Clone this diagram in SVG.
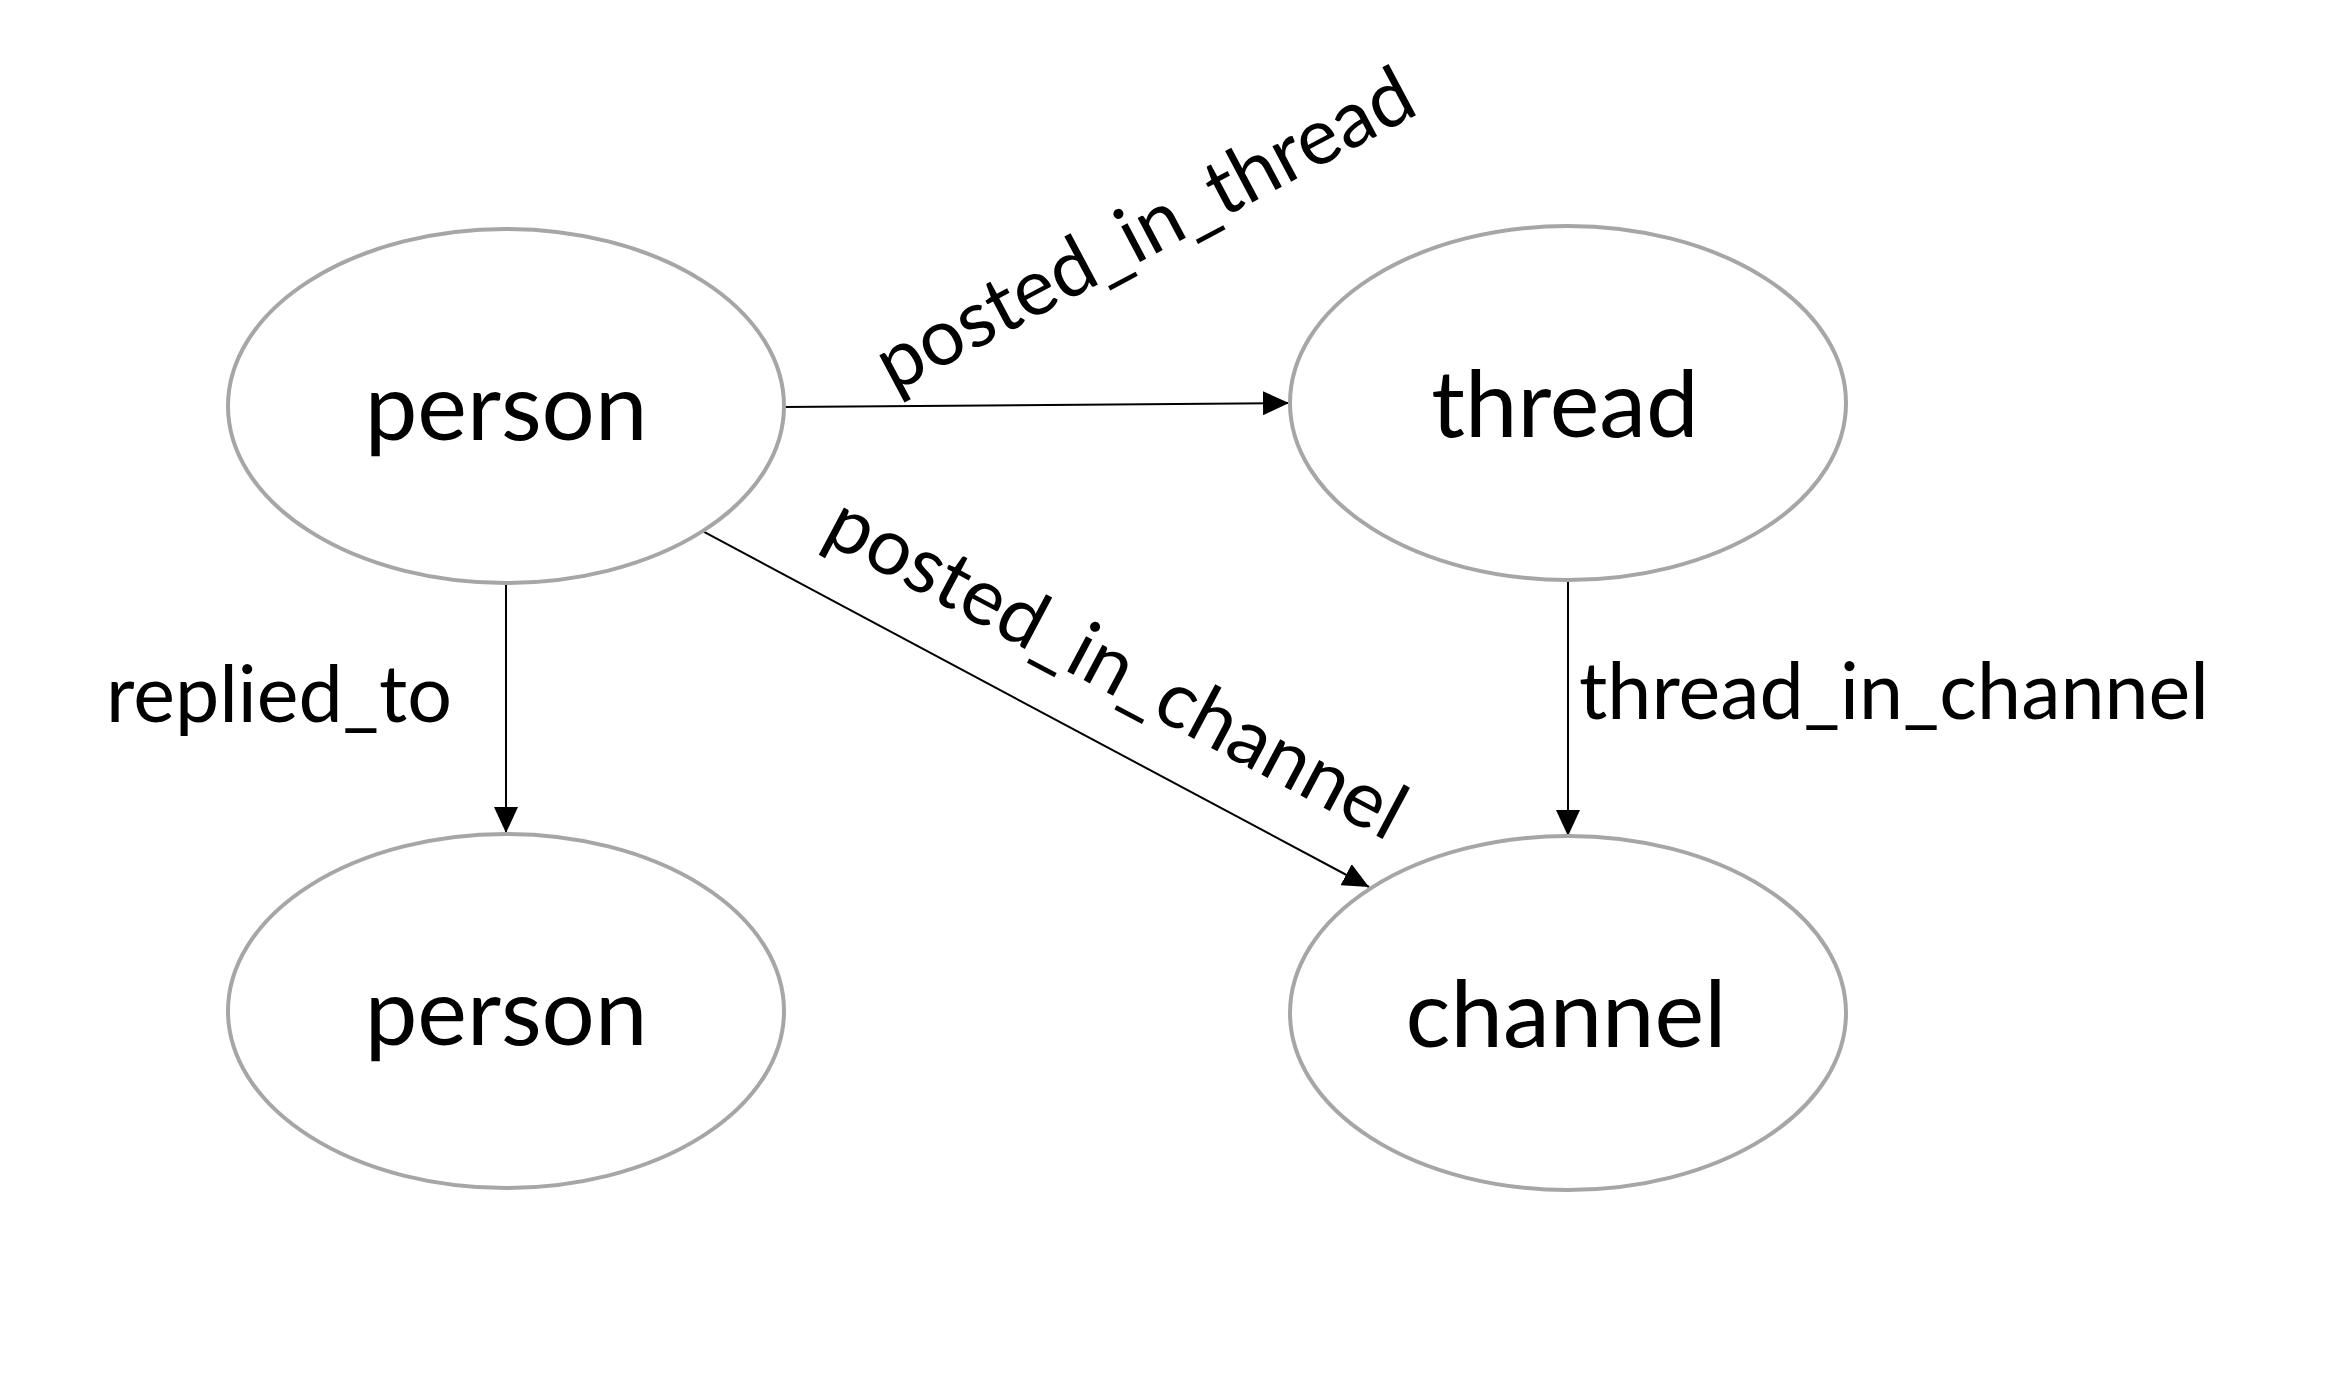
<svg xmlns="http://www.w3.org/2000/svg" width="2328" height="1384" viewBox="0 0 2328 1384">
<style>
.node ellipse{fill:#FFFFFF;stroke:#A6A6A6;stroke-width:4}
.nlabel{font-family:Lato,"Open Sans","Liberation Sans",sans-serif;font-size:94px;fill:#000;text-anchor:middle}
.elabel{font-family:Lato,"Open Sans","Liberation Sans",sans-serif;font-size:79px;fill:#000;text-anchor:middle}
.edge{stroke:#000;stroke-width:2;fill:none;marker-end:url(#arrow)}
</style>
<defs>
<marker id="arrow" viewBox="0 0 26 24" refX="26" refY="12" markerWidth="26" markerHeight="24" markerUnits="userSpaceOnUse" orient="auto">
<path d="M0,0 L26,12 L0,24 z" fill="#000"/>
</marker>
</defs>
<rect x="0" y="0" width="2328" height="1384" fill="#FFFFFF"/>
<g id="connectors">
<line class="edge" x1="784" y1="407" x2="1289" y2="403"/>
<line class="edge" x1="703.6" y1="531.7" x2="1369" y2="887"/>
<line class="edge" x1="506" y1="584" x2="506" y2="833"/>
<line class="edge" x1="1568" y1="580" x2="1568" y2="836"/>
<text class="elabel" transform="translate(1157,253) rotate(-28)">posted_in_thread</text>
<text class="elabel" transform="translate(1104,691) rotate(28)">posted_in_channel</text>
<text class="elabel" x="279" y="722">replied_to</text>
<text class="elabel" x="1894" y="719">thread_in_channel</text>
</g>
<g id="node-person-top" class="node">
<ellipse cx="506" cy="406" rx="278" ry="177"/>
<text class="nlabel" x="506" y="440">person</text>
</g>
<g id="node-thread" class="node">
<ellipse cx="1568" cy="403" rx="278" ry="177"/>
<text class="nlabel" x="1565" y="437">thread</text>
</g>
<g id="node-person-bottom" class="node">
<ellipse cx="506" cy="1011" rx="278" ry="177"/>
<text class="nlabel" x="506" y="1045">person</text>
</g>
<g id="node-channel" class="node">
<ellipse cx="1568" cy="1013" rx="278" ry="177"/>
<text class="nlabel" x="1566" y="1047">channel</text>
</g>
</svg>
